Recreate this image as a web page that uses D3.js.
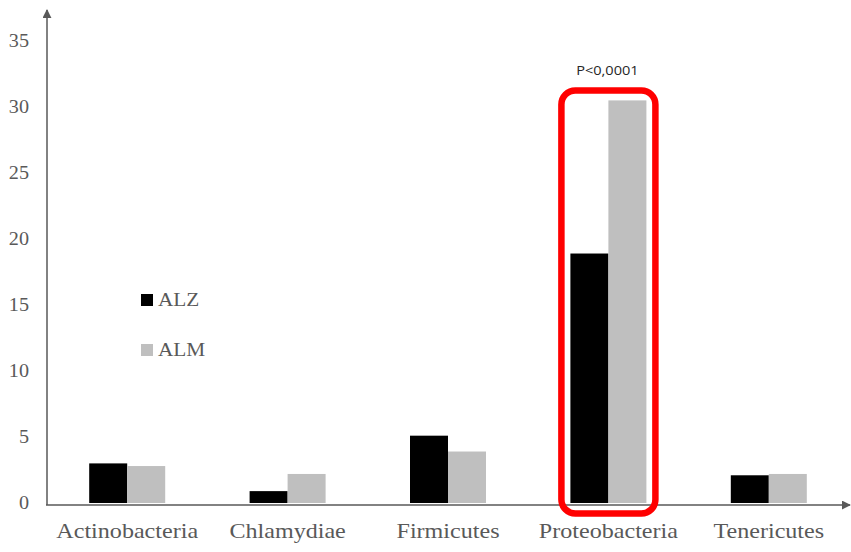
<!DOCTYPE html>
<html>
<head>
<meta charset="utf-8">
<script src="https://cdn.jsdelivr.net/npm/d3@7"></script>
<style>
  html, body { margin: 0; padding: 0; background: #fff; }
  svg { display: block; }
</style>
</head>
<body>
<svg id="chart" width="851" height="552"></svg>
<script>
// Phylum abundance for the two groups
const categories = ["Actinobacteria", "Chlamydiae", "Firmicutes", "Proteobacteria", "Tenericutes"];
const seriesNames = ["ALZ", "ALM"];
const alzValues = [3.0, 0.9, 5.1, 18.9, 2.1];
const almValues = [2.8, 2.2, 3.9, 30.5, 2.2];
const yTicks = [0, 5, 10, 15, 20, 25, 30, 35];
const highlightCategory = "Proteobacteria";
const highlightLabel = "P<0,0001";

const colors = { ALZ: "#000000", ALM: "#bfbfbf" };
const textGrey = "#595959";
const serif = "'Liberation Serif', 'Times New Roman', serif";
const textStretch = 1.12; // glyphs are drawn slightly wide

const svg = d3.select("#chart");

// widen a text selection horizontally while keeping its anchor
function stretch(sel) {
  sel.each(function () {
    const w = this.getComputedTextLength();
    d3.select(this).attr("textLength", w * textStretch).attr("lengthAdjust", "spacingAndGlyphs");
  });
}

const x0 = d3.scaleBand().domain(categories).range([47, 849]).padding(0);
const barW = 38;
const x1 = d3.scaleBand().domain(seriesNames)
  .range([x0.bandwidth() / 2 - barW, x0.bandwidth() / 2 + barW]).padding(0);
const y = d3.scaleLinear().domain([0, 35]).range([503, 41]);

const rows = categories.map((c, i) => ({ cat: c, ALZ: alzValues[i], ALM: almValues[i] }));

// Bars
const groups = svg.append("g").selectAll("g").data(rows).join("g")
  .attr("transform", d => `translate(${x0(d.cat)},0)`);
groups.selectAll("rect")
  .data(d => seriesNames.map(s => ({ s, v: d[s] })))
  .join("rect")
  .attr("x", d => x1(d.s))
  .attr("width", x1.bandwidth())
  .attr("y", d => y(d.v))
  .attr("height", d => y(0) - y(d.v))
  .attr("fill", d => colors[d.s]);

// Y axis tick labels (no tick marks)
const yAxis = d3.axisLeft(y).tickValues(yTicks).tickSize(0).tickPadding(18);
const yg = svg.append("g").attr("transform", "translate(47,0)").call(yAxis);
yg.select(".domain").remove();
yg.selectAll("text")
  .attr("font-family", serif).attr("font-size", 18).attr("fill", textGrey)
  .attr("dy", "0.32em")
  .call(stretch);

// X axis category labels
const xAxis = d3.axisBottom(x0).tickSize(0).tickPadding(20);
const xg = svg.append("g").attr("transform", `translate(0,${y(0)})`).call(xAxis);
xg.select(".domain").remove();
xg.selectAll("text")
  .attr("font-family", serif).attr("font-size", 21.5).attr("fill", textGrey)
  .attr("dy", "0.71em")
  .call(stretch);

// Axis lines with arrow heads
const defs = svg.append("defs");
defs.append("marker").attr("id", "arrow")
  .attr("viewBox", "0 0 10 10").attr("refX", 9).attr("refY", 5)
  .attr("markerWidth", 9).attr("markerHeight", 9).attr("orient", "auto")
  .attr("markerUnits", "userSpaceOnUse")
  .append("path").attr("d", "M0,0 L10,5 L0,10 Z").attr("fill", textGrey);

svg.append("line")
  .attr("x1", 47).attr("y1", y(0) + 2).attr("x2", 47).attr("y2", 10)
  .attr("stroke", textGrey).attr("stroke-width", 1.5)
  .attr("marker-end", "url(#arrow)");
svg.append("line")
  .attr("x1", 46).attr("y1", y(0) + 2).attr("x2", 850).attr("y2", y(0) + 2)
  .attr("stroke", textGrey).attr("stroke-width", 1.5)
  .attr("marker-end", "url(#arrow)");

// Highlight box around the significant category
const hi = rows.find(r => r.cat === highlightCategory);
const cx = x0(highlightCategory) + x0.bandwidth() / 2;
const topV = Math.max(hi.ALZ, hi.ALM);
svg.append("rect")
  .attr("x", cx - 47).attr("width", 94)
  .attr("y", y(topV) - 10).attr("height", y(0) + 10.5 - (y(topV) - 10))
  .attr("rx", 14).attr("ry", 14)
  .attr("fill", "none").attr("stroke", "#ff0000").attr("stroke-width", 6.5);

svg.append("text")
  .attr("x", cx - 1).attr("y", y(topV) - 25)
  .attr("text-anchor", "middle")
  .attr("font-family", "'Open Sans', 'Liberation Sans', sans-serif")
  .attr("font-size", 13).attr("fill", "#262626")
  .text(highlightLabel)
  .call(stretch);

// Legend
const legend = svg.append("g").attr("transform", "translate(141,294)");
seriesNames.forEach((s, i) => {
  const g = legend.append("g").attr("transform", `translate(0,${i * 50})`);
  g.append("rect").attr("width", 12).attr("height", 12).attr("fill", colors[s]);
  g.append("text").attr("x", 17).attr("y", 12)
    .attr("font-family", serif).attr("font-size", 19).attr("fill", textGrey)
    .text(s)
    .call(stretch);
});
</script>
</body>
</html>
